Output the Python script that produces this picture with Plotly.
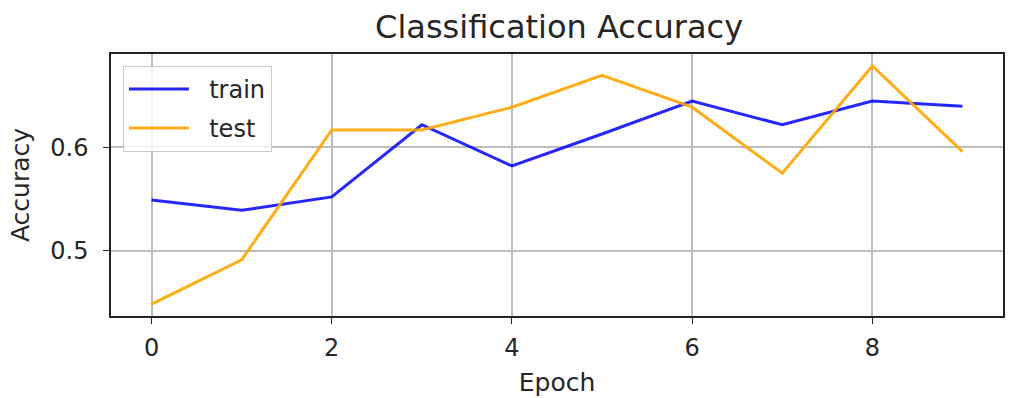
import plotly.graph_objects as go

# Accuracy per epoch for the training and test splits
epochs = [0, 1, 2, 3, 4, 5, 6, 7, 8, 9]
train_acc = [0.549, 0.539, 0.552, 0.622, 0.582, 0.613, 0.645, 0.622, 0.645, 0.640]
test_acc = [0.448, 0.491, 0.617, 0.617, 0.639, 0.670, 0.639, 0.575, 0.679, 0.596]

x_ticks = [0, 2, 4, 6, 8]
y_ticks = [0.5, 0.6]

FONT = "DejaVu Sans"
TEXT = "#262626"
PAD = "\u00a0\u00a0"  # gap between legend line sample and label

fig = go.Figure()
fig.add_trace(go.Scatter(x=epochs, y=train_acc, mode="lines", name=PAD + "train",
                         legendgroup="a",
                         line=dict(color="rgba(0,0,255,0.85)", width=3)))
fig.add_trace(go.Scatter(x=epochs, y=test_acc, mode="lines", name=PAD + "test",
                         legendgroup="b",
                         line=dict(color="rgba(255,165,0,0.9)", width=3)))

axis_common = dict(
    showline=True, linecolor="#222222", linewidth=1.5, mirror=True,
    showgrid=True, gridcolor="#bdbdbd", gridwidth=1.5,
    ticks="outside", ticklen=6, tickwidth=1.3, tickcolor="#222222",
    zeroline=False, tickfont=dict(family=FONT, size=24, color=TEXT),
)

fig.update_layout(
    width=1011, height=398,
    margin=dict(l=111, r=6, t=54, b=81),
    paper_bgcolor="white", plot_bgcolor="white",
    title=dict(text="Classification Accuracy", x=0.553, xanchor="center",
               y=1 - 27 / 398, yanchor="middle",
               font=dict(family=FONT, size=32, color=TEXT)),
    xaxis=dict(range=[-0.45, 9.45], tickvals=x_ticks, ticklabelstandoff=3,
               title=dict(text="Epoch", font=dict(family=FONT, size=25, color=TEXT), standoff=13),
               **axis_common),
    yaxis=dict(range=[0.4365, 0.6906], tickvals=y_ticks, tickformat=".1f",
               ticklabelstandoff=10,
               title=dict(text="Accuracy", font=dict(family=FONT, size=25, color=TEXT), standoff=14),
               **axis_common),
    legend=dict(x=0.0134, y=0.955, xanchor="left", yanchor="top",
                bgcolor="rgba(255,255,255,0.8)", bordercolor="#cccccc", borderwidth=1,
                font=dict(family=FONT, size=24, color=TEXT),
                itemwidth=60, tracegroupgap=5),
    showlegend=True,
)

fig.write_html("out.html")
